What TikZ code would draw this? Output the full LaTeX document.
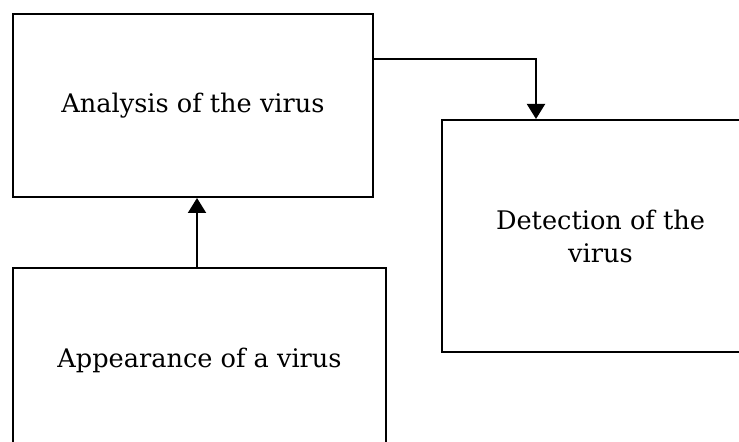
\documentclass[tikz,border=0pt]{standalone}
\usepackage{fontspec}
\setmainfont{DejaVu Serif}
\usetikzlibrary{arrows.meta,positioning}
\tikzstyle{block} = [rectangle, draw=black, line width=1pt, align=center, font=\fontsize{12.8}{16.5}\selectfont]
\tikzstyle{arrow} = [line width=1pt, -{Triangle[width=9pt,length=7.5pt]}]

\begin{document}
\begin{tikzpicture}[x=0.5pt,y=-0.5pt]
    \useasboundingbox (0,0) rectangle (739,442);
    \clip (0,0) rectangle (739,442);

    \node[block, minimum width=180pt, minimum height=91.5pt] (analysis) at (193,105.5) {Analysis of the virus};
    \node[block, minimum width=158.5pt, minimum height=116pt] (detection) at (600.5,236) {Detection of the\\ virus};
    \node[block, minimum width=186.5pt, minimum height=92pt] (appearance) at (199.5,360) {Appearance of a virus};

    %\draw[arrow] (appearance) -- (analysis);
    \draw[arrow] ([xshift=-1.25pt]appearance.north) -- ([xshift=-1.25pt]appearance.north |- analysis.south);

    \coordinate (bend) at (536,59);
    \draw[arrow] (analysis.east |- bend) -- (bend) -- (bend |- detection.north);
\end{tikzpicture}
\end{document}
